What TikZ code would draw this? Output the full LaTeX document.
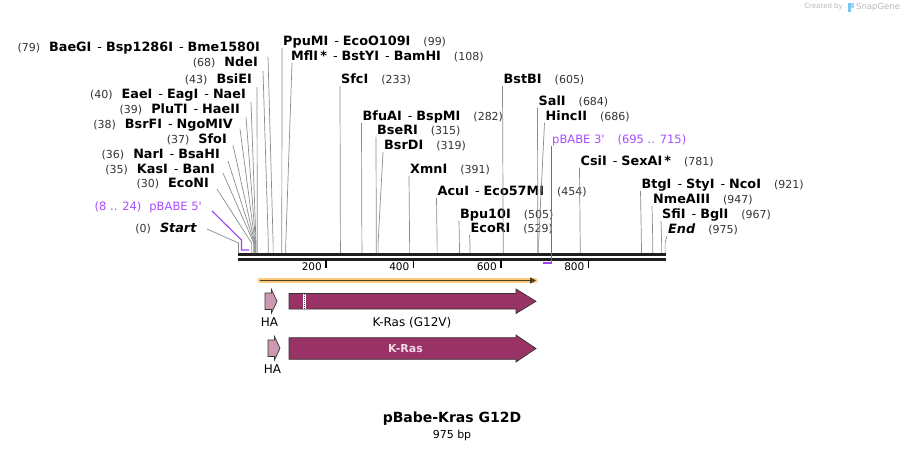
\documentclass[tikz,border=0pt]{standalone}
\usepackage{fontspec}
\setmainfont{DejaVu Sans}
\usetikzlibrary{arrows.meta}

\definecolor{numgray}{HTML}{333333}
\definecolor{linegray}{HTML}{8C8C8C}
\definecolor{primer}{HTML}{A040F0}
\definecolor{primertext}{HTML}{A64DFF}
\definecolor{kras}{HTML}{993366}
\definecolor{hapink}{HTML}{CC99B3}
\definecolor{orfyellow}{HTML}{FBCB7B}
\definecolor{orfdark}{HTML}{4A3C28}
\definecolor{krastext}{HTML}{F2D9E6}
\definecolor{markgray}{HTML}{B8B8B8}
\definecolor{markblue}{HTML}{7CC4F2}

\newcommand{\nm}[1]{\textbf{#1}}
\newcommand{\bpnum}[1]{{\fontsize{11}{13}\selectfont\color{numgray}(#1)}}
\newcommand{\dsh}{\hspace{6pt}-\hspace{4pt}}
\newcommand{\numgap}{\hspace{13pt}}
\newcommand{\lgap}{\hspace{9pt}}

\begin{document}
\begin{tikzpicture}[x=1pt, y=-1pt,
    lbl/.style={inner sep=0pt, text height=9pt, text depth=2.5pt, font=\fontsize{12.8}{15}\selectfont},
    lbleft/.style={lbl, anchor=east},
    lbright/.style={lbl, anchor=west},
    primerlbl/.style={text=primertext, font=\fontsize{11.5}{13}\selectfont},
    cutline/.style={draw=linegray, line width=0.7pt},
    primerline/.style={draw=primer, line width=1.1pt},
    axisline/.style={draw=black!88, line width=2.2pt},
    tick/.style={draw=black, line width=1.4pt},
    ticklbl/.style={inner sep=0pt, anchor=east, font=\fontsize{10.5}{12}\selectfont},
    featlbl/.style={inner sep=0pt, font=\fontsize{12}{14}\selectfont},
    featbox/.style={draw=black!80, line width=0.7pt}]
\useasboundingbox (0,0) rectangle (905,451);

% cut sites on the sequence
\coordinate (s0)   at (238.5,253);
\coordinate (s30)  at (251.6,253);
\coordinate (s35)  at (253.8,253);
\coordinate (s36)  at (254.3,253);
\coordinate (s37)  at (254.7,253);
\coordinate (s38)  at (255.1,253);
\coordinate (s39)  at (255.6,253);
\coordinate (s40)  at (256.0,253);
\coordinate (s43)  at (257.3,253);
\coordinate (s68)  at (268.3,253);
\coordinate (s79)  at (273.1,253);
\coordinate (s99)  at (281.8,253);
\coordinate (s108) at (285.8,253);
\coordinate (s233) at (340.4,253);
\coordinate (s282) at (361.9,253);
\coordinate (s315) at (376.3,253);
\coordinate (s319) at (378.1,253);
\coordinate (s391) at (409.6,253);
\coordinate (s454) at (437.1,253);
\coordinate (s505) at (459.4,253);
\coordinate (s529) at (469.9,253);
\coordinate (s605) at (503.2,253);
\coordinate (s684) at (537.8,253);
\coordinate (s686) at (538.6,253);
\coordinate (s781) at (580.2,253);
\coordinate (s921) at (641.4,253);
\coordinate (s947) at (652.8,253);
\coordinate (s967) at (661.6,253);
\coordinate (s975) at (665.1,253);
\coordinate (p5a)  at (241.5,250);
\coordinate (p5b)  at (249.0,250);
\coordinate (p3a)  at (551.3,263);
\coordinate (p3b)  at (542.6,263);

% sequence line and ruler
\draw[axisline] (238,254.5) -- (666,254.5);
\draw[axisline] (238,259.5) -- (666,259.5);
\draw[tick] (326,260) -- (326,268);
\draw[tick] (413.5,260) -- (413.5,268);
\draw[tick] (501,260) -- (501,268);
\draw[tick] (588.5,260) -- (588.5,268);
\node[ticklbl] (t200) at (322,267) {200};
\node[ticklbl] (t400) at (409.5,267) {400};
\node[ticklbl] (t600) at (497,267) {600};
\node[ticklbl] (t800) at (584.5,267) {800};

% labels left of the sites
\node[lbleft] (lBaeGI) at (260,48)  {\bpnum{79}\lgap\nm{BaeGI}\dsh\nm{Bsp1286I}\dsh\nm{Bme1580I}};
\node[lbleft] (lNdeI)  at (258,63)  {\bpnum{68}\lgap\nm{NdeI}};
\node[lbleft] (lBsiEI) at (252,80)  {\bpnum{43}\lgap\nm{BsiEI}};
\node[lbleft] (lEaeI)  at (246,95)  {\bpnum{40}\lgap\nm{EaeI}\dsh\nm{EagI}\dsh\nm{NaeI}};
\node[lbleft] (lPluTI) at (240,110) {\bpnum{39}\lgap\nm{PluTI}\dsh\nm{HaeII}};
\node[lbleft] (lBsrFI) at (233,125) {\bpnum{38}\lgap\nm{BsrFI}\dsh\nm{NgoMIV}};
\node[lbleft] (lSfoI)  at (227,140) {\bpnum{37}\lgap\nm{SfoI}};
\node[lbleft] (lNarI)  at (220,155) {\bpnum{36}\lgap\nm{NarI}\dsh\nm{BsaHI}};
\node[lbleft] (lKasI)  at (215,170) {\bpnum{35}\lgap\nm{KasI}\dsh\nm{BanI}};
\node[lbleft] (lEcoNI) at (209,184) {\bpnum{30}\lgap\nm{EcoNI}};
\node[lbleft, primerlbl] (l5p) at (202,207) {(8 .. 24)\hspace{8pt}pBABE 5\textquotesingle};
\node[lbleft] (lStart) at (197,229) {\bpnum{0}\lgap\nm{\itshape Start}};

\draw[cutline] ([xshift=8pt,yshift=-9pt]lBaeGI.east) -- ([yshift=10pt]s79) -- (s79);
\draw[cutline] ([xshift=5pt,yshift=-8pt]lNdeI.east) -- ([yshift=10pt]s68) -- (s68);
\draw[cutline] ([xshift=5pt,yshift=-7pt]lBsiEI.east) -- ([yshift=10pt]s43) -- (s43);
\draw[cutline] ([xshift=5pt,yshift=-7pt]lEaeI.east) -- ([yshift=10pt]s40) -- (s40);
\draw[cutline] ([xshift=6pt,yshift=-7pt]lPluTI.east) -- ([yshift=10pt]s39) -- (s39);
\draw[cutline] ([xshift=7pt,yshift=-4pt]lBsrFI.east) -- ([yshift=10pt]s38) -- (s38);
\draw[cutline] ([xshift=6pt,yshift=-5pt]lSfoI.east) -- ([yshift=10pt]s37) -- (s37);
\draw[cutline] ([xshift=8pt,yshift=-6pt]lNarI.east) -- ([yshift=10pt]s36) -- (s36);
\draw[cutline] ([xshift=8pt,yshift=-3pt]lKasI.east) -- ([yshift=10pt]s35) -- (s35);
\draw[cutline] ([xshift=8pt,yshift=-5pt]lEcoNI.east) -- ([yshift=10pt]s30) -- (s30);
\draw[cutline] ([xshift=10pt]lStart.east) -- ([yshift=10pt]s0) -- (s0);
\draw[primerline] ([xshift=10pt,yshift=-4pt]l5p.east) -- ([yshift=10pt]p5a) -- (p5a) -- (p5b);

% labels right of the sites
\node[lbright] (lPpuMI)   at (283,42)    {\nm{PpuMI}\dsh\nm{EcoO109I}\numgap\bpnum{99}};
\node[lbright] (lMflI)    at (291,57)    {\nm{MflI}\,\nm{*}\dsh\nm{BstYI}\dsh\nm{BamHI}\numgap\bpnum{108}};
\node[lbright] (lSfcI)    at (341,80)    {\nm{SfcI}\numgap\bpnum{233}};
\node[lbright] (lBfuAI)   at (362.5,117) {\nm{BfuAI}\dsh\nm{BspMI}\numgap\bpnum{282}};
\node[lbright] (lBseRI)   at (377,131)   {\nm{BseRI}\numgap\bpnum{315}};
\node[lbright] (lBsrDI)   at (384,146)   {\nm{BsrDI}\numgap\bpnum{319}};
\node[lbright] (lXmnI)    at (410,170)   {\nm{XmnI}\numgap\bpnum{391}};
\node[lbright] (lAcuI)    at (437.5,192) {\nm{AcuI}\dsh\nm{Eco57MI}\numgap\bpnum{454}};
\node[lbright] (lBpu10I)  at (460,215)   {\nm{Bpu10I}\numgap\bpnum{505}};
\node[lbright] (lEcoRI)   at (470.5,229) {\nm{EcoRI}\numgap\bpnum{529}};
\node[lbright] (lBstBI)   at (503.5,80)  {\nm{BstBI}\numgap\bpnum{605}};
\node[lbright] (lSalI)    at (538.5,102) {\nm{SalI}\numgap\bpnum{684}};
\node[lbright] (lHincII)  at (545.5,117) {\nm{HincII}\numgap\bpnum{686}};
\node[lbright, primerlbl] (l3p) at (552,140) {pBABE 3\textquotesingle\numgap(695 .. 715)};
\node[lbright] (lCsiI)    at (580.5,162) {\nm{CsiI}\dsh\nm{SexAI}\,\nm{*}\numgap\bpnum{781}};
\node[lbright] (lBtgI)    at (641.5,185) {\nm{BtgI}\dsh\nm{StyI}\dsh\nm{NcoI}\numgap\bpnum{921}};
\node[lbright] (lNmeAIII) at (653,200)   {\nm{NmeAIII}\numgap\bpnum{947}};
\node[lbright] (lSfiI)    at (662,215)   {\nm{SfiI}\dsh\nm{BglI}\numgap\bpnum{967}};
\node[lbright] (lEnd)     at (668,230)   {\nm{\itshape End}\numgap\bpnum{975}};

\draw[cutline] ([xshift=-1pt]lPpuMI.south west) -- ([yshift=10pt]s99) -- (s99);
\draw[cutline] ([xshift=1pt]lMflI.south west) -- ([yshift=10pt]s108) -- (s108);
\draw[cutline] ([xshift=-1pt]lSfcI.south west) -- ([yshift=10pt]s233) -- (s233);
\draw[cutline] ([xshift=-1pt]lBfuAI.south west) -- ([yshift=10pt]s282) -- (s282);
\draw[cutline] ([xshift=-1pt]lBseRI.south west) -- ([yshift=10pt]s315) -- (s315);
\draw[cutline] ([xshift=-1pt]lBsrDI.south west) -- ([yshift=10pt]s319) -- (s319);
\draw[cutline] ([xshift=-1pt]lXmnI.south west) -- ([yshift=10pt]s391) -- (s391);
\draw[cutline] ([xshift=-1pt]lAcuI.south west) -- ([yshift=10pt]s454) -- (s454);
\draw[cutline] ([xshift=-1pt]lBpu10I.south west) -- ([yshift=10pt]s505) -- (s505);
\draw[cutline] ([xshift=-1pt]lEcoRI.south west) -- ([yshift=10pt]s529) -- (s529);
\draw[cutline] ([xshift=-1pt]lBstBI.south west) -- ([yshift=10pt]s605) -- (s605);
\draw[cutline] ([xshift=-1pt]lSalI.south west) -- ([yshift=10pt]s684) -- (s684);
\draw[cutline] ([xshift=-1pt]lHincII.south west) -- ([yshift=10pt]s686) -- (s686);
\draw[cutline] ([xshift=-1pt]lCsiI.south west) -- ([yshift=10pt]s781) -- (s781);
\draw[cutline] ([xshift=-1pt]lBtgI.south west) -- ([yshift=10pt]s921) -- (s921);
\draw[cutline] ([xshift=-1pt]lNmeAIII.south west) -- ([yshift=10pt]s947) -- (s947);
\draw[cutline] ([xshift=-1pt]lSfiI.south west) -- ([yshift=10pt]s967) -- (s967);
\draw[cutline] ([xshift=-1pt]lEnd.south west) -- ([yshift=10pt]s975) -- (s975);
\draw[primerline] (p3a |- l3p.south) -- (p3a) -- (p3b);

% open reading frame
\draw[orfyellow, line width=5.5pt, line cap=round] (260,280.5) -- (535,280.5);
\draw[orfdark, line width=1.4pt, -{Triangle[length=6pt,width=6pt]}] (260,280.5) -- (536,280.5);

% features, first row
\filldraw[featbox, fill=hapink] (265,293) -- (271.5,293) -- (271.5,289.5) -- (277,301.3)
    -- (271.5,313) -- (271.5,309.5) -- (265,309.5) -- cycle;
\filldraw[featbox, fill=kras] (289,293.5) -- (516,293.5) -- (516,289) -- (536,301.3)
    -- (516,313.5) -- (516,309) -- (289,309) -- cycle;
\fill[white] (302.6,294) rectangle (306,308.6);
\draw[black!70, line width=0.8pt, dash pattern=on 1pt off 1pt] (304.3,294) -- (304.3,308.6);
\node[featlbl] (ha1) at (269.5,322.5) {HA};
\node[featlbl] (kras1) at (412,322.5) {K-Ras (G12V)};

% features, second row
\filldraw[featbox, fill=hapink] (268,340) -- (274.5,340) -- (274.5,336.5) -- (280,348.3)
    -- (274.5,360) -- (274.5,356.5) -- (268,356.5) -- cycle;
\filldraw[featbox, fill=kras] (289,337.7) -- (516,337.7) -- (516,335) -- (536,348.5)
    -- (516,362) -- (516,359.3) -- (289,359.3) -- cycle;
\node[featlbl, font=\fontsize{11}{13}\selectfont\bfseries, text=krastext] (kras2) at (405.5,348.5) {K-Ras};
\node[featlbl] (ha2) at (272.5,369.5) {HA};

% title
\node[inner sep=0pt, font=\fontsize{14}{16}\selectfont\bfseries] (title) at (452,419) {pBabe-Kras G12D};
\node[inner sep=0pt, font=\fontsize{11}{13}\selectfont, below=4pt] (size) at (title.south) {975 bp};

% watermark
\node[inner sep=0pt, anchor=east, text=markgray, font=\fontsize{7}{8}\selectfont] (made) at (843,7) {Created by};
\fill[markblue] (847.5,2.5) rectangle (851,12);
\fill[markblue!70] (851,2.5) rectangle (853.5,8);
\node[inner sep=0pt, anchor=west, text=markgray, font=\fontsize{8.5}{10}\selectfont] (snap) at (856,7) {SnapGene};
\end{tikzpicture}
\end{document}
